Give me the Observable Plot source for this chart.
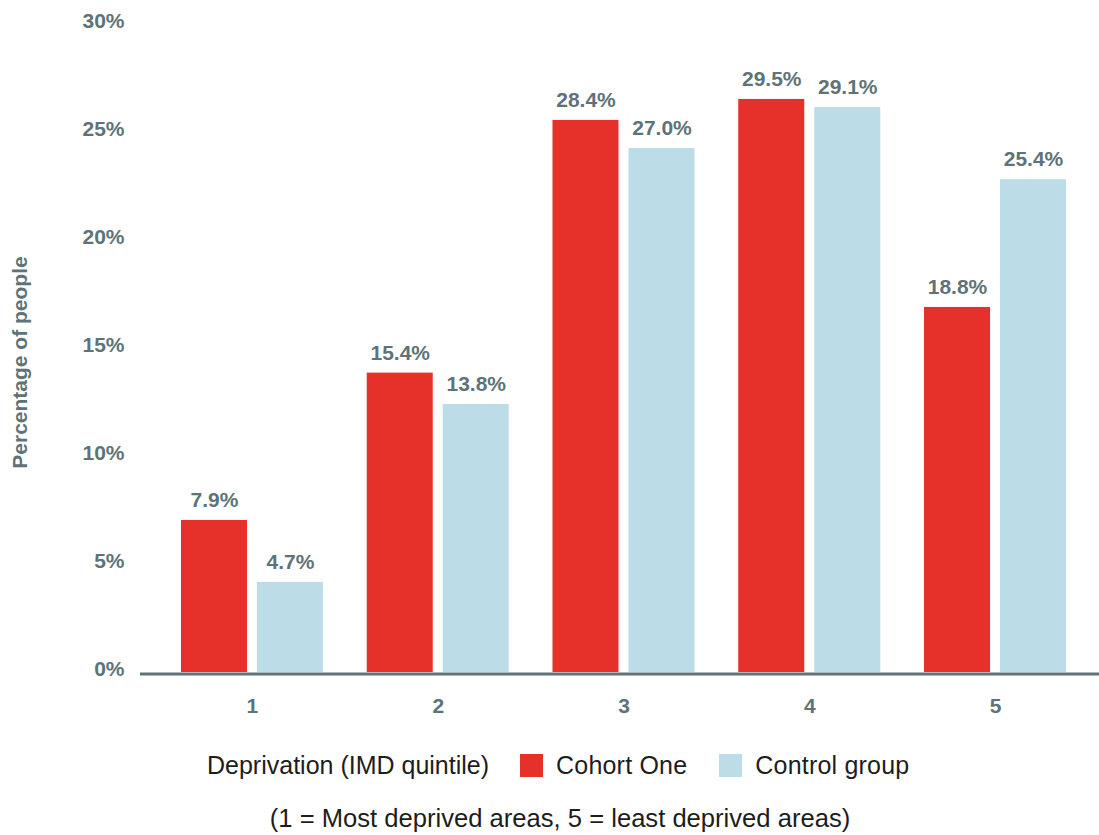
<!DOCTYPE html>
<html>
<head>
<meta charset="utf-8">
<script src="https://cdn.jsdelivr.net/npm/d3@7"></script>
<script src="https://cdn.jsdelivr.net/npm/@observablehq/plot@0.6"></script>
<style>
  body { margin: 0; background: #fff; font-family: "Liberation Sans", Arial, sans-serif; }
  #chart svg { display: block; }
  .legend { display: flex; align-items: center; height: 70px; padding-left: 207px; font-size: 25px; color: #1d1d1b; }
  .legend .sw { display: inline-block; width: 23px; height: 23px; margin-right: 13px; }
  .legend .first { margin-right: 31px; }
  .legend .item { margin-right: 32px; letter-spacing: 0.2px; }
  .caption { height: 36px; line-height: 36px; padding-left: 21px; text-align: center; font-size: 25.6px; color: #1d1d1b; }
</style>
</head>
<body>
<div id="chart"></div>
<div class="legend" id="legend"></div>
<div class="caption" id="caption"></div>
<script>
// ---- data ----
const groups = ["1", "2", "3", "4", "5"];
const seriesNames = ["Cohort One", "Control group"];
const seriesColors = ["#e5312a", "#bcdde8"];
// drawn bar heights (in axis units, as shown in the picture)
const cohortHeights = [7.04, 13.86, 25.56, 26.53, 16.9];
const controlHeights = [4.17, 12.41, 24.26, 26.16, 22.82];
// value labels printed above the bars
const cohortLabels = ["7.9%", "15.4%", "28.4%", "29.5%", "18.8%"];
const controlLabels = ["4.7%", "13.8%", "27.0%", "29.1%", "25.4%"];
const yTicks = [0, 5, 10, 15, 20, 25, 30];
const yTitle = "Percentage of people";
const legendTitle = "Deprivation (IMD quintile)";
const captionText = "(1 = Most deprived areas, 5 = least deprived areas)";

const gray = "#5e7378";
const font = "'Liberation Sans', Arial, sans-serif";

const cohort = groups.map((g, i) => ({group: g, value: cohortHeights[i], label: cohortLabels[i]}));
const control = groups.map((g, i) => ({group: g, value: controlHeights[i], label: controlLabels[i]}));

const chart = Plot.plot({
  width: 1099,
  height: 730,
  marginLeft: 140,
  marginRight: 0,
  marginTop: 24,
  marginBottom: 58,
  style: {fontFamily: font, color: gray, background: "#fff"},
  x: {type: "band", domain: groups, paddingInner: 0.2355, paddingOuter: 0.199, align: 0.554, round: false},
  y: {domain: [0, 30]},
  marks: [
    Plot.axisY({ticks: yTicks, tickFormat: d => d + "%", tickSize: 0, tickPadding: 16, dy: -3,
      fontSize: 21, fontWeight: "bold", fill: gray, label: null}),
    Plot.axisX({tickSize: 0, tickPadding: 26, fontSize: 21, fontWeight: "bold", fill: gray, label: null}),
    Plot.barY(cohort, {x: "group", y: "value", fill: seriesColors[0], insetRight: 76}),
    Plot.barY(control, {x: "group", y: "value", fill: seriesColors[1], insetLeft: 76}),
    Plot.text(cohort, {x: "group", y: "value", text: "label", dx: -38, dy: -20,
      fontSize: 21, fontWeight: "bold", fill: gray}),
    Plot.text(control, {x: "group", y: "value", text: "label", dx: 38, dy: -20,
      fontSize: 21, fontWeight: "bold", fill: gray}),
    Plot.ruleY([0], {stroke: gray, strokeWidth: 3, dy: 1.5}),
    Plot.text([yTitle], {text: d => d, frameAnchor: "left", textAnchor: "middle", rotate: -90, dx: -120, dy: 14,
      fontSize: 21, fontWeight: "bold", fill: gray})
  ]
});
document.getElementById("chart").append(chart);

// legend
const legend = document.getElementById("legend");
const t = document.createElement("span");
t.className = "first";
t.textContent = legendTitle;
legend.append(t);
seriesNames.forEach((name, i) => {
  const sw = document.createElement("span");
  sw.className = "sw";
  sw.style.background = seriesColors[i];
  legend.append(sw);
  const lab = document.createElement("span");
  lab.className = "item";
  lab.textContent = name;
  legend.append(lab);
});
document.getElementById("caption").textContent = captionText;
</script>
</body>
</html>
